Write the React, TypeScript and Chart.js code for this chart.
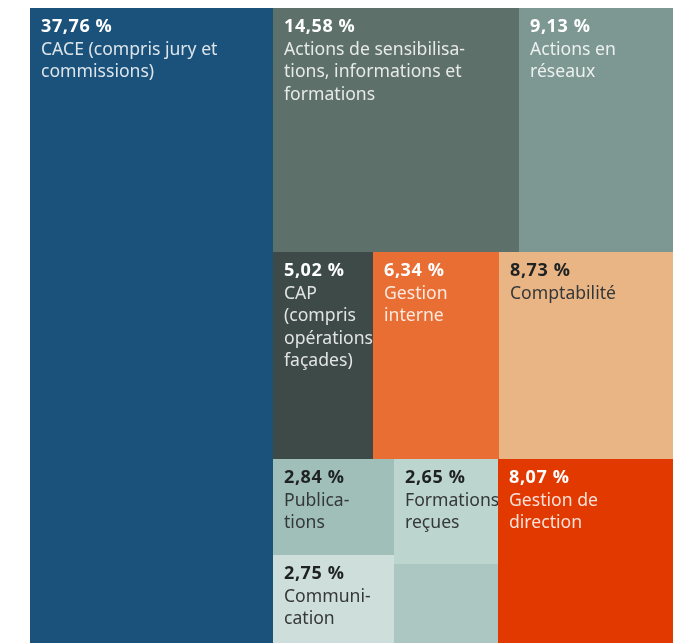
import React, { useEffect, useRef } from "react";
import { Chart, registerables } from "chart.js";

Chart.register(...registerables);

// ---- data ----
const categories = [
  "CACE (compris jury et commissions)",
  "Actions de sensibilisations, informations et formations",
  "Actions en réseaux",
  "CAP (compris opérations façades)",
  "Gestion interne",
  "Comptabilité",
  "Publications",
  "Formations reçues",
  "Gestion de direction",
  "Communication",
  "Autres",
];
const labelLines: string[][] = [
  ["CACE (compris jury et", "commissions)"],
  ["Actions de sensibilisa-", "tions, informations et", "formations"],
  ["Actions en", "réseaux"],
  ["CAP", "(compris", "opérations", "façades)"],
  ["Gestion", "interne"],
  ["Comptabilité"],
  ["Publica-", "tions"],
  ["Formations", "reçues"],
  ["Gestion de", "direction"],
  ["Communi-", "cation"],
  [],
];
const shares = [37.76, 14.58, 9.13, 5.02, 6.34, 8.73, 2.84, 2.65, 8.07, 2.75, 2.13];
const showValue = [true, true, true, true, true, true, true, true, true, true, false];
const fillColors = [
  "#1b527b",
  "#5d706a",
  "#7d9892",
  "#3d4a48",
  "#e96e33",
  "#eab585",
  "#9fbfb8",
  "#bdd5cf",
  "#e23900",
  "#cedfdb",
  "#acc7c1",
];
const darkText = [false, false, false, false, false, true, true, true, false, true, true];

// treemap structure: leaves are indices into the arrays above
type Node = number | { dir: "h" | "v"; children: Node[] };
const layoutTree: Node = {
  dir: "h",
  children: [
    0,
    {
      dir: "v",
      children: [
        { dir: "h", children: [1, 2] },
        { dir: "h", children: [3, 4, 5] },
        {
          dir: "h",
          children: [
            { dir: "v", children: [6, 9] },
            { dir: "v", children: [7, 10] },
            8,
          ],
        },
      ],
    },
  ],
};

function sizeOf(n: Node): number {
  if (typeof n === "number") return shares[n];
  return n.children.reduce((s, c) => s + sizeOf(c), 0);
}

function layout(n: Node, x0: number, y0: number, x1: number, y1: number, out: any[]) {
  if (typeof n === "number") {
    out[n] = { x0, y0, x1, y1 };
    return;
  }
  const total = sizeOf(n);
  let pos = n.dir === "h" ? x0 : y0;
  for (const c of n.children) {
    const f = sizeOf(c) / total;
    if (n.dir === "h") {
      const w = (x1 - x0) * f;
      layout(c, pos, y0, pos + w, y1, out);
      pos += w;
    } else {
      const h = (y1 - y0) * f;
      layout(c, x0, pos, x1, pos + h, out);
      pos += h;
    }
  }
}

const fmt = (v: number) => v.toFixed(2).replace(".", ",") + " %";

const treemapPlugin = {
  id: "treemapCells",
  afterDatasetsDraw(chart: any) {
    const { ctx, scales } = chart;
    const xs = scales.x;
    const ys = scales.y;
    const rects: any[] = [];
    layout(layoutTree, 0, 0, 100, 100, rects);
    rects.forEach((r, i) => {
      const px0 = Math.round(xs.getPixelForValue(r.x0));
      const px1 = Math.round(xs.getPixelForValue(r.x1));
      const py0 = Math.round(ys.getPixelForValue(r.y0));
      const py1 = Math.round(ys.getPixelForValue(r.y1));
      ctx.save();
      ctx.fillStyle = fillColors[i];
      ctx.fillRect(px0, py0, px1 - px0, py1 - py0);
      ctx.beginPath();
      ctx.rect(px0, py0, px1 - px0, py1 - py0);
      ctx.clip();
      ctx.textBaseline = "alphabetic";
      ctx.textAlign = "left";
      const tx = px0 + 11;
      let ty = py0 + 24;
      if (showValue[i]) {
        ctx.font = "bold 18px 'Open Sans', 'Noto Sans', sans-serif";
        (ctx as any).letterSpacing = "0.6px";
        ctx.fillStyle = darkText[i] ? "#1f2222" : "#ffffff";
        ctx.fillText(fmt(shares[i]), tx, ty);
        (ctx as any).letterSpacing = "0px";
        ty += 22.5;
      }
      ctx.font = "17.6px 'Noto Sans', 'Open Sans', sans-serif";
      ctx.fillStyle = darkText[i] ? "#353838" : "rgba(255,255,255,0.85)";
      for (const line of labelLines[i]) {
        ctx.fillText(line, tx, ty);
        ty += 22.5;
      }
      ctx.restore();
    });
  },
};

export default function App() {
  const canvasRef = useRef<HTMLCanvasElement | null>(null);
  useEffect(() => {
    if (!canvasRef.current) return;
    const chart = new Chart(canvasRef.current, {
      type: "scatter",
      data: { labels: categories, datasets: [{ data: [] }] },
      options: {
        animation: false,
        responsive: true,
        maintainAspectRatio: false,
        layout: { padding: { left: 30, right: 19.7, top: 8, bottom: 0 } },
        scales: {
          x: { type: "linear", min: 0, max: 100, display: false },
          y: { type: "linear", min: 0, max: 99.14, reverse: true, display: false },
        },
        plugins: { legend: { display: false }, tooltip: { enabled: false } },
      },
      plugins: [treemapPlugin],
    } as any);
    return () => chart.destroy();
  }, []);
  return (
    <div style={{ position: "absolute", left: 0, top: 0, width: 693, height: 643 }}>
      <canvas ref={canvasRef} />
    </div>
  );
}
